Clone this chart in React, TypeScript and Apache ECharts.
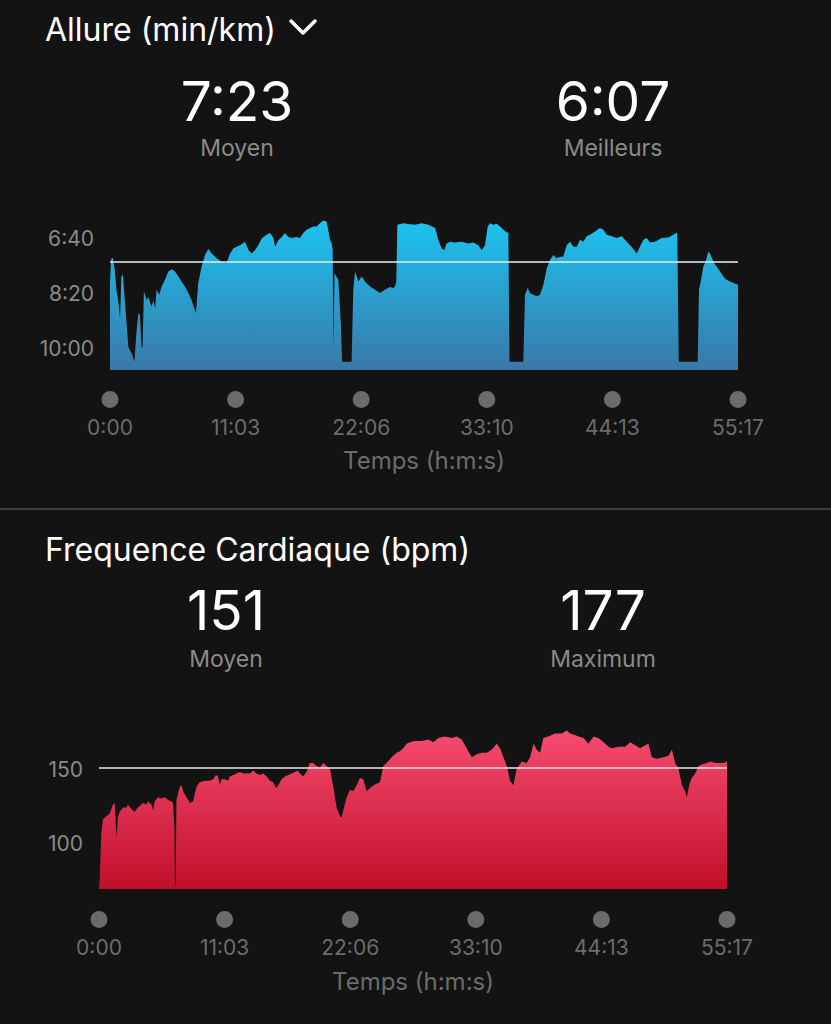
import React, { useEffect, useRef } from "react";
import * as echarts from "echarts";

// ---- Data ----
const totalSeconds = 3317; // 55:17
const timeTickCount = 5;

const avgPace = 443; // 7:23 min/km
const bestPace = 367; // 6:07 min/km
const avgHr = 151;
const maxHr = 177;

const paceTicks = [400, 500, 600];
const hrTicks = [100, 150];

// [time (s), pace (s/km)]
const paceData: [number, number][] = [
  [0, 482], [6, 438], [14, 436], [24, 455], [35, 497], [44, 515], [53, 546], [60, 470], [68, 467],
  [80, 520], [97, 598], [115, 610], [129, 625], [140, 570], [150, 537], [158, 540], [167, 598],
  [172, 600], [179, 497], [194, 513], [202, 507], [220, 525], [229, 513], [238, 528], [246, 494],
  [260, 503], [273, 488], [290, 476], [308, 461], [326, 457], [343, 461], [361, 470], [378, 479],
  [396, 488], [414, 500], [431, 513], [454, 537], [466, 482], [484, 452], [502, 431], [519, 420],
  [537, 428], [563, 437], [590, 443], [616, 446], [634, 428], [651, 419], [669, 416], [687, 413],
  [713, 407], [731, 422], [748, 428], [766, 422], [783, 413], [801, 401], [827, 394], [845, 391],
  [863, 400], [872, 416], [889, 404], [907, 398], [924, 391], [942, 398], [959, 400], [986, 398],
  [1003, 400], [1021, 391], [1039, 385], [1056, 382], [1074, 379], [1091, 379], [1109, 373],
  [1127, 368], [1144, 370], [1162, 403], [1171, 410], [1176, 420], [1180, 598], [1186, 464],
  [1195, 470], [1206, 476], [1220, 560], [1226, 625], [1276, 625], [1285, 494], [1294, 461],
  [1312, 479], [1329, 470], [1347, 479], [1373, 488], [1400, 494], [1426, 500], [1452, 494],
  [1479, 489], [1496, 491], [1505, 488], [1512, 480], [1518, 376], [1549, 373], [1584, 375],
  [1611, 376], [1646, 373], [1681, 376], [1717, 382], [1734, 403], [1752, 419], [1766, 422],
  [1778, 410], [1796, 407], [1822, 408], [1857, 407], [1893, 410], [1919, 408], [1945, 413],
  [1963, 422], [1981, 413], [1995, 379], [2007, 373], [2025, 376], [2042, 374], [2060, 379],
  [2078, 385], [2095, 390], [2104, 390], [2110, 625], [2183, 625], [2192, 503], [2206, 491],
  [2218, 500], [2236, 503], [2254, 506], [2271, 503], [2289, 485], [2307, 455], [2324, 440],
  [2342, 431], [2359, 437], [2377, 434], [2394, 434], [2412, 413], [2430, 407], [2447, 416],
  [2465, 416], [2483, 403], [2500, 407], [2518, 397], [2535, 394], [2562, 388], [2588, 382],
  [2606, 385], [2623, 394], [2650, 397], [2676, 400], [2703, 397], [2729, 407], [2755, 416],
  [2782, 428], [2799, 416], [2817, 403], [2835, 400], [2852, 408], [2879, 407], [2914, 400],
  [2949, 399], [2975, 394], [2996, 390], [3004, 625], [3104, 625], [3111, 494], [3122, 476],
  [3134, 452], [3146, 443], [3160, 425], [3169, 428], [3187, 443], [3204, 452], [3222, 461],
  [3240, 470], [3257, 476], [3275, 479], [3293, 482], [3317, 485],
];

// [time (s), heart rate (bpm)]
const hrData: [number, number][] = [
  [0, 69], [4, 77], [12, 106], [21, 116], [30, 117], [39, 118], [57, 120], [74, 126], [83, 127],
  [92, 104], [101, 118], [109, 121], [127, 124], [145, 124], [153, 126], [171, 123], [189, 121],
  [198, 123], [215, 125], [233, 127], [250, 126], [259, 128], [277, 126], [286, 122], [294, 128],
  [312, 131], [330, 130], [347, 131], [365, 129], [383, 128], [391, 127], [398, 110], [401, 70],
  [405, 72], [409, 129], [427, 138], [436, 139], [444, 135], [462, 131], [480, 127], [497, 128],
  [515, 138], [532, 141], [559, 142], [585, 142], [603, 143], [617, 146], [629, 145], [638, 139],
  [647, 143], [665, 143], [682, 142], [691, 145], [709, 146], [726, 147], [744, 148], [762, 147],
  [779, 147], [797, 147], [815, 149], [832, 147], [850, 146], [868, 147], [885, 145], [903, 142],
  [920, 141], [935, 137], [947, 139], [964, 143], [982, 145], [1000, 146], [1017, 147],
  [1035, 148], [1049, 149], [1061, 147], [1079, 145], [1096, 148], [1114, 154], [1131, 154],
  [1149, 152], [1167, 151], [1184, 154], [1202, 152], [1220, 150], [1237, 138], [1255, 124],
  [1273, 118], [1281, 117], [1290, 122], [1308, 131], [1326, 136], [1343, 135], [1361, 139],
  [1378, 144], [1396, 143], [1414, 135], [1431, 137], [1449, 139], [1466, 140], [1484, 141],
  [1502, 152], [1519, 154], [1546, 158], [1572, 161], [1590, 162], [1607, 164], [1625, 167],
  [1643, 168], [1669, 169], [1704, 169], [1739, 170], [1766, 168], [1792, 171], [1828, 172],
  [1863, 171], [1889, 172], [1916, 170], [1942, 164], [1969, 158], [1995, 160], [2021, 161],
  [2048, 161], [2074, 163], [2101, 167], [2118, 164], [2136, 158], [2154, 152], [2171, 142],
  [2189, 139], [2206, 150], [2233, 155], [2259, 154], [2277, 158], [2295, 167], [2312, 163],
  [2330, 161], [2347, 171], [2374, 172], [2409, 174], [2444, 174], [2471, 176], [2488, 174],
  [2515, 173], [2532, 172], [2559, 171], [2585, 167], [2612, 172], [2638, 171], [2665, 168],
  [2691, 165], [2709, 164], [2744, 165], [2779, 165], [2806, 168], [2832, 166], [2858, 164],
  [2885, 166], [2902, 167], [2920, 158], [2946, 157], [2982, 158], [3008, 159], [3026, 163],
  [3043, 154], [3061, 150], [3079, 139], [3096, 135], [3105, 131], [3117, 139], [3131, 144],
  [3149, 147], [3167, 152], [3184, 153], [3211, 154], [3228, 155], [3255, 154], [3281, 154],
  [3299, 154], [3317, 155],
];

// ---- Helpers ----
const pad2 = (n: number) => String(n).padStart(2, "0");
const fmtPace = (s: number) => `${Math.floor(s / 60)}:${pad2(Math.round(s % 60))}`;
const fmtTime = (v: number) => {
  const s = Math.floor(v + 1e-6);
  return `${Math.floor(s / 60)}:${pad2(s % 60)}`;
};

const FONT = "Inter";
const BG = "#131313";
const LABEL_GRAY = "#6c6c6c";
const Y_GRAY = "#8a8a8a";
const SUB_GRAY = "#8a8a8a";

function xAxisFor(gridIndex: number, nameGap: number, margin: number) {
  return {
    type: "value",
    gridIndex,
    min: 0,
    max: totalSeconds,
    interval: totalSeconds / timeTickCount,
    axisLine: { show: false },
    axisTick: { show: false },
    splitLine: { show: false },
    name: "Temps (h:m:s)",
    nameLocation: "middle",
    nameGap,
    nameTextStyle: { color: LABEL_GRAY, fontSize: 24, fontFamily: FONT },
    axisLabel: {
      margin,
      formatter: (v: number) => `{dot|}\n{t|${fmtTime(v)}}`,
      rich: {
        dot: {
          width: 17,
          height: 17,
          lineHeight: 17,
          borderRadius: 8.5,
          backgroundColor: "#6b6b6b",
        },
        t: {
          color: LABEL_GRAY,
          fontSize: 21,
          fontFamily: FONT,
          lineHeight: 39,
        },
      },
    },
  };
}

export default function App() {
  const ref = useRef<HTMLDivElement>(null);

  useEffect(() => {
    if (!ref.current) return;
    const chart = echarts.init(ref.current, undefined, { renderer: "svg" });

    const headerText = (
      text: string,
      x: number,
      y: number,
      size: number,
      color: string,
      align: string,
      lineHeight: number
    ) => ({
      type: "text",
      x,
      y,
      style: {
        text,
        fill: color,
        font: `400 ${size}px ${FONT}`,
        lineHeight,
        textAlign: align,
        textVerticalAlign: "middle",
      },
    });

    chart.setOption({
      animation: false,
      backgroundColor: BG,
      textStyle: { fontFamily: FONT },
      graphic: [
        headerText("Allure (min/km)", 45, 29, 32, "#ffffff", "left", 36),
        {
          type: "polyline",
          shape: { points: [[291, 21], [303, 33], [315, 21]] },
          style: { stroke: "#ffffff", lineWidth: 3.5, fill: null, lineCap: "round", lineJoin: "round" },
        },
        headerText(fmtPace(avgPace), 237, 101, 55, "#ffffff", "center", 44),
        headerText("Moyen", 237, 148, 23, SUB_GRAY, "center", 24),
        headerText(fmtPace(bestPace), 613, 101, 55, "#ffffff", "center", 44),
        headerText("Meilleurs", 613, 148, 23, SUB_GRAY, "center", 24),
        {
          type: "rect",
          shape: { x: 0, y: 508, width: 831, height: 2 },
          style: { fill: "#3c3c3c" },
        },
        headerText("Frequence Cardiaque (bpm)", 45, 549, 32, "#ffffff", "left", 36),
        headerText(String(avgHr), 226, 610, 55, "#ffffff", "center", 44),
        headerText("Moyen", 226, 659, 23, SUB_GRAY, "center", 24),
        headerText(String(maxHr), 603, 610, 55, "#ffffff", "center", 44),
        headerText("Maximum", 603, 659, 23, SUB_GRAY, "center", 24),
      ],
      grid: [
        { left: 110, top: 216, width: 628, height: 154 },
        { left: 99, top: 724.6, width: 628, height: 164.3 },
      ],
      xAxis: [xAxisFor(0, 78, 21), xAxisFor(1, 81, 22)],
      yAxis: [
        {
          type: "value",
          gridIndex: 0,
          inverse: true,
          min: 360,
          max: 640,
          interval: 20,
          axisLine: { show: false },
          axisTick: { show: false },
          splitLine: { show: false },
          axisLabel: {
            margin: 16,
            color: Y_GRAY,
            fontSize: 21,
            fontFamily: FONT,
            formatter: (v: number) => (paceTicks.includes(v) ? fmtPace(v) : ""),
          },
        },
        {
          type: "value",
          gridIndex: 1,
          min: 69,
          max: 180,
          interval: 1,
          axisLine: { show: false },
          axisTick: { show: false },
          splitLine: { show: false },
          axisLabel: {
            margin: 16,
            color: Y_GRAY,
            fontSize: 21,
            fontFamily: FONT,
            formatter: (v: number) => (hrTicks.includes(v) ? String(v) : ""),
          },
        },
      ],
      series: [
        {
          type: "line",
          xAxisIndex: 0,
          yAxisIndex: 0,
          data: paceData,
          symbol: "none",
          lineStyle: { width: 0, opacity: 0 },
          areaStyle: {
            origin: "end",
            opacity: 1,
            color: new echarts.graphic.LinearGradient(0, 0, 0, 1, [
              { offset: 0, color: "#1cc4f0" },
              { offset: 1, color: "#3a78a8" },
            ]),
          },
          markLine: {
            silent: true,
            symbol: "none",
            label: { show: false },
            lineStyle: { color: "#e6eef2", width: 1.5, type: "solid" },
            data: [{ yAxis: avgPace }],
          },
        },
        {
          type: "line",
          xAxisIndex: 1,
          yAxisIndex: 1,
          data: hrData,
          symbol: "none",
          lineStyle: { width: 0, opacity: 0 },
          areaStyle: {
            origin: "start",
            opacity: 1,
            color: new echarts.graphic.LinearGradient(0, 0, 0, 1, [
              { offset: 0, color: "#f64c70" },
              { offset: 1, color: "#c10f2b" },
            ]),
          },
          markLine: {
            silent: true,
            symbol: "none",
            label: { show: false },
            lineStyle: { color: "#f2e6e8", width: 1.5, type: "solid" },
            data: [{ yAxis: avgHr }],
          },
        },
      ],
    });

    return () => chart.dispose();
  }, []);

  return (
    <div
      ref={ref}
      style={{ position: "absolute", left: 0, top: 0, width: 831, height: 1024, background: BG }}
    />
  );
}
